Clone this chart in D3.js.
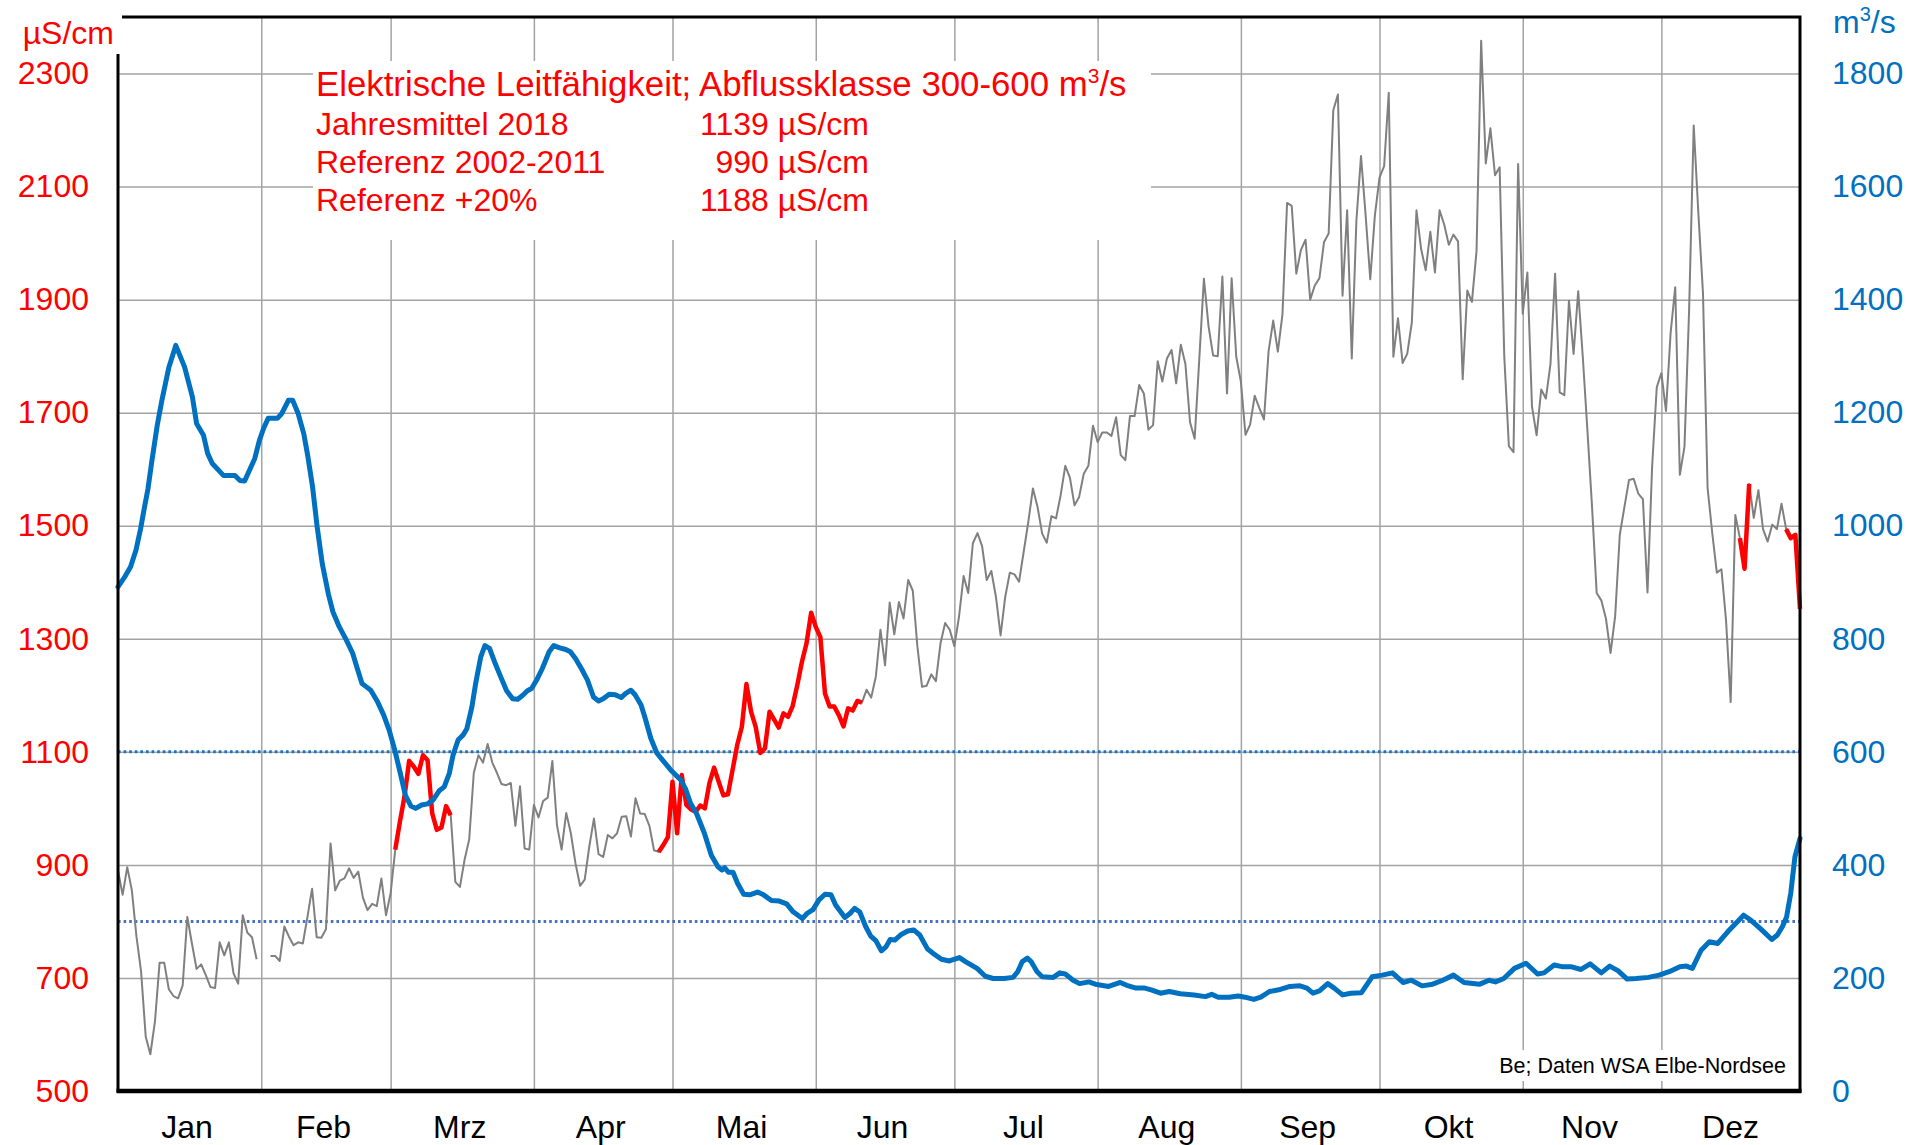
<!DOCTYPE html>
<html>
<head>
<meta charset="utf-8">
<title>Elektrische Leitfähigkeit 2018</title>
<script src="https://cdn.jsdelivr.net/npm/d3@7"></script>
<style>
  body { margin: 0; background: #fff; }
  svg text { font-family: "Liberation Sans", Arial, sans-serif; }
  .grid line { stroke: #a3a3a3; stroke-width: 1.5; }
  .grid path { display: none; }
</style>
</head>
<body>
<script>
// Tageswerte 2018 (Index 0 = 1. Januar), µS/cm; null = keine Daten
var leitfaehigkeit = [
  890,847,896,855,773,711,596,565,623,727,
  727,680,668,664,687,808,761,716,724,705,
  684,682,763,740,763,708,690,811,780,772,
  733,null,null,739,739,730,791,773,758,763,
  761,808,858,772,771,786,938,855,872,876,
  894,877,888,842,820,831,827,876,811,850,
  927,976,1021,1084,1074,1061,1094,1085,991,962,
  966,1004,988,870,861,909,945,1063,1094,1081,
  1114,1081,1063,1043,1041,1045,969,1039,929,927,
  1006,984,1013,1019,1084,970,927,992,956,903,
  863,874,933,982,919,914,953,947,956,985,
  986,950,1018,991,990,969,926,923,935,949,
  1047,956,1059,1006,998,994,1005,1000,1045,1072,
  1047,1023,1025,1068,1112,1144,1220,1171,1144,1098,
  1106,1171,1157,1143,1168,1162,1181,1218,1259,1292,
  1346,1321,1303,1203,1180,1180,1165,1145,1177,1173,
  1190,1187,1210,1196,1233,1316,1253,1364,1308,1365,
  1336,1404,1385,1286,1215,1217,1237,1225,1292,1328,
  1316,1287,1339,1411,1381,1469,1487,1464,1404,1420,
  1374,1306,1374,1417,1414,1401,1454,1507,1566,1533,
  1486,1470,1517,1513,1554,1606,1585,1536,1551,1592,
  1606,1677,1648,1665,1665,1659,1692,1625,1616,1694,
  1694,1749,1734,1670,1678,1791,1755,1796,1811,1752,
  1820,1786,1683,1654,1795,1937,1853,1801,1800,1941,
  1734,1938,1799,1755,1661,1679,1730,1708,1688,1809,
  1863,1808,1874,2071,2066,1946,1988,2006,1900,1925,
  1938,2002,2017,2235,2263,1907,2058,1796,2040,2154,
  2049,1936,2049,2116,2136,2266,1799,1867,1788,1804,
  1860,2058,1990,1952,2020,1948,2058,2033,1997,2015,
  2003,1759,1916,1896,1986,2358,2141,2203,2120,2134,
  1800,1641,1630,2140,1875,1948,1711,1660,1741,1725,
  1786,1946,1736,1731,1898,1804,1915,1798,1668,1533,
  1381,1368,1336,1275,1340,1484,1533,1581,1583,1557,
  1547,1382,1605,1745,1770,1703,1841,1922,1590,1640,
  1881,2208,2054,1912,1567,1488,1417,1423,1332,1188,
  1519,1478,1424,1574,1514,1563,1494,1472,1502,1494,
  1539,1494,1478,1484,1353
];

// Tage (von-bis), an denen der Abfluss in der Klasse 300-600 m3/s lag
var klasseTage = [[60, 72], [117, 161], [351, 353], [361, 364]];

// Abfluss m3/s: [Tag, Wert]
var abfluss = [
  [0,892],[1.5,910],[2.7,927],[3.9,957],[4.9,995],[5.6,1027],[6.5,1066],[7.3,1113],[8.5,1178],[9.5,1222],
  [11,1280],[12.5,1319],[14.4,1281],[16.1,1228],[17,1181],[18.5,1160],[19.4,1128],[20.4,1110],[21.9,1097],
  [22.8,1089],[25.3,1089],[26.4,1080],[27.4,1079],[28.6,1101],[29.6,1119],[30.6,1151],[31.5,1172],
  [32.5,1190],[34.5,1190],[35.4,1198],[36.9,1222],[37.8,1222],[39,1198],[40.2,1163],[41.1,1122],
  [42.1,1069],[43.1,998],[44.2,933],[45.5,880],[46.5,848],[47.9,821],[49.4,798],[50.8,774],[51.8,747],
  [52.8,721],[53.9,714],[54.7,709],[56.2,688],[57.5,665],[58.7,638],[59.9,603],[61.1,562],[62.2,523],
  [63.4,504],[64.4,500],[65.7,506],[67,508],[68.2,515],[69.5,531],[70.6,538],[71.7,562],[72.5,594],
  [73.6,621],[74.7,630],[75.5,641],[76.6,680],[77.4,721],[78.5,768],[79.4,788],[80.4,783],[81.5,759],
  [82.8,733],[84.1,708],[85.4,694],[86.5,693],[87.6,700],[88.6,708],[89.5,712],[90.6,727],[91.8,747],
  [93.3,777],[94.3,788],[95.6,784],[96.9,781],[97.9,777],[99,765],[100.3,747],[101.6,727],[102.9,697],
  [104,690],[105,694],[106.3,702],[107.6,701],[108.9,696],[109.8,703],[111,709],[111.9,701],[113.2,683],
  [114.1,659],[115.3,624],[116.6,598],[117.9,585],[119.6,568],[121.8,550],[122.8,535],[123.9,509],
  [125.2,491],[126.9,456],[128.4,417],[129.8,397],[130.7,391],[131.3,395],[132.1,387],[133.1,387],
  [134.1,367],[135.4,348],[136.7,347],[138.4,352],[139.7,347],[141.4,337],[143.1,336],[144.7,331],
  [146.1,317],[148.1,305],[149.1,314],[150.4,321],[151.7,338],[153,348],[154.3,347],[155.3,329],
  [157.3,307],[158.4,314],[159.4,323],[160.5,317],[161.8,291],[162.9,274],[164,266],[165.2,248],
  [166.2,255],[167.1,268],[168.1,267],[169.5,277],[170.9,283],[172.2,285],[173.5,276],[175.2,251],
  [176.5,243],[178.2,233],[179.9,230],[182.1,236],[183.4,229],[185.9,217],[187.7,203],[189.4,199],
  [191.8,199],[193.7,201],[194.7,211],[195.7,229],[196.8,235],[197.6,229],[198.9,211],[200,202],
  [202.4,201],[203.8,209],[205,207],[206.7,196],[208.1,190],[210.1,193],[211.5,189],[214.4,185],
  [216.9,192],[218.3,187],[220.3,182],[222.2,182],[223.6,179],[225.6,173],[227.5,176],[229.9,172],
  [232.9,170],[235.3,167],[236.7,171],[238.1,166],[240.5,166],[242.4,168],[243.9,166],[245.8,162],
  [247.3,166],[249.2,176],[251.2,179],[253.6,185],[255.8,186],[257.3,182],[258.6,173],[260,177],
  [261.8,190],[263.2,182],[265,170],[266.8,173],[269.1,174],[271.4,202],[273.6,205],[275.8,209],
  [278.1,192],[279.9,196],[282.2,186],[284.5,189],[286.7,196],[289,205],[291.3,192],[294.7,189],
  [296.7,196],[298.1,193],[299.9,199],[302.2,217],[304.7,226],[307.2,207],[308.6,209],[310.8,223],
  [312.5,220],[314.4,220],[316.6,215],[318.6,225],[321,209],[322.8,221],[324.6,213],[326.6,198],
  [328.5,199],[331.2,201],[333.5,205],[335.7,211],[338,220],[339.4,221],[340.7,217],[342.6,249],
  [344.4,264],[346.2,261],[348.4,282],[350.4,299],[351.8,311],[353.4,302],[355.6,286],[357.9,268],
  [359.1,276],[360.2,291],[361.1,308],[362,350],[362.9,414],[364,447]
];

var monate = ["Jan","Feb","Mrz","Apr","Mai","Jun","Jul","Aug","Sep","Okt","Nov","Dez"];
var monatsBeginn = [0,31,59,90,120,151,181,212,243,273,304,334,365];
var leitTicks = [500,700,900,1100,1300,1500,1700,1900,2100,2300];
var abflussTicks = [0,200,400,600,800,1000,1200,1400,1600,1800];
var klasseGrenzen = [300, 600];

var titel = "Elektrische Leitfähigkeit; Abflussklasse 300-600 m";
var kennzeilen = [
  ["Jahresmittel 2018", "1139 µS/cm"],
  ["Referenz 2002-2011", "990 µS/cm"],
  ["Referenz +20%", "1188 µS/cm"]
];

var width = 1907, height = 1145;
var pL = 118, pR = 1800, pT = 17, pB = 1091;
var rot = "#ff0000", blau = "#0070c0";
var fs = "32px";

var svg = d3.select("body").append("svg")
  .attr("width", width)
  .attr("height", height);

var x = d3.scaleLinear().domain([0, 364]).range([pL, pR]);
var yL = d3.scaleLinear().domain([500, 2400]).range([pB, pT]);
var yR = d3.scaleLinear().domain([0, 1900]).range([pB, pT]);

// Gitternetz
svg.append("g").attr("class", "grid")
  .attr("transform", "translate(" + pL + ",0)")
  .call(d3.axisLeft(yL).tickValues(leitTicks).tickSize(-(pR - pL)).tickFormat(""));
svg.append("g").attr("class", "grid")
  .attr("transform", "translate(0," + pB + ")")
  .call(d3.axisBottom(x).tickValues(monatsBeginn.slice(1, 12)).tickSize(-(pB - pT)).tickFormat(""));

// weiße Textfelder über dem Gitter
svg.append("rect").attr("x", 313).attr("y", 61).attr("width", 838).attr("height", 179).attr("fill", "#fff");
svg.append("rect").attr("x", 1497).attr("y", 1050).attr("width", 293).attr("height", 31).attr("fill", "#fff");

// Klassengrenzen
svg.selectAll(".grenze")
  .data(klasseGrenzen)
  .enter().append("line")
  .attr("class", "grenze")
  .attr("x1", pL).attr("x2", pR)
  .attr("y1", d => yR(d)).attr("y2", d => yR(d))
  .attr("stroke", (d, i) => i == 0 ? "#4472c4" : "#1a72c2")
  .attr("stroke-width", 3)
  .attr("stroke-dasharray", "2.6 3");

// Leitfähigkeit, grau
var lineL = d3.line()
  .defined(d => d != null)
  .x((d, i) => x(i))
  .y(d => yL(d));

svg.append("path")
  .datum(leitfaehigkeit)
  .attr("d", lineL)
  .attr("fill", "none")
  .attr("stroke", "#808080")
  .attr("stroke-width", 2)
  .attr("stroke-linejoin", "round");

// Leitfähigkeit in der Abflussklasse, rot
var lineK = d3.line()
  .x(d => x(d[0]))
  .y(d => yL(d[1]));

svg.selectAll(".klasse")
  .data(klasseTage)
  .enter().append("path")
  .attr("class", "klasse")
  .attr("d", r => lineK(d3.range(r[0], r[1] + 1).map(i => [i, leitfaehigkeit[i]])))
  .attr("fill", "none")
  .attr("stroke", rot)
  .attr("stroke-width", 4.5)
  .attr("stroke-linejoin", "round");

// Abfluss, blau
var lineQ = d3.line()
  .x(d => x(d[0]))
  .y(d => yR(d[1]));

svg.append("path")
  .datum(abfluss)
  .attr("d", lineQ)
  .attr("fill", "none")
  .attr("stroke", blau)
  .attr("stroke-width", 5)
  .attr("stroke-linejoin", "round")
  .attr("stroke-linecap", "round");

// Rahmen
svg.append("rect")
  .attr("x", pL).attr("y", pT)
  .attr("width", pR - pL).attr("height", pB - pT)
  .attr("fill", "none").attr("stroke", "#000").attr("stroke-width", 3);
svg.append("line")
  .attr("x1", pL - 1.5).attr("x2", pR + 1.5)
  .attr("y1", pB).attr("y2", pB)
  .attr("stroke", "#000").attr("stroke-width", 4.5);
svg.append("rect").attr("x", 0).attr("y", 0).attr("width", 122).attr("height", 54).attr("fill", "#fff");

// Achsen
var axL = svg.append("g")
  .attr("transform", "translate(" + pL + ",0)")
  .call(d3.axisLeft(yL).tickValues(leitTicks).tickSize(0).tickPadding(29).tickFormat(d3.format("d")));
axL.select(".domain").remove();
axL.selectAll("text").attr("fill", rot).style("font-size", fs);

var axR = svg.append("g")
  .attr("transform", "translate(" + pR + ",0)")
  .call(d3.axisRight(yR).tickValues(abflussTicks).tickSize(0).tickPadding(32).tickFormat(d3.format("d")));
axR.select(".domain").remove();
axR.selectAll("text").attr("fill", blau).style("font-size", fs);

var mitten = monate.map((m, i) => (monatsBeginn[i] + monatsBeginn[i + 1]) / 2);
var axB = svg.append("g")
  .attr("transform", "translate(-3," + pB + ")")
  .call(d3.axisBottom(x).tickValues(mitten).tickSize(0).tickFormat((d, i) => monate[i]));
axB.select(".domain").remove();
axB.selectAll("text").attr("fill", "#000").attr("y", 47).attr("dy", 0).style("font-size", fs);

// Einheiten
svg.append("text").attr("x", 114).attr("y", 44).attr("text-anchor", "end")
  .attr("fill", rot).style("font-size", fs).text("µS/cm");

var eR = svg.append("text").attr("x", 1833).attr("y", 33)
  .attr("fill", blau).style("font-size", fs);
eR.append("tspan").text("m");
eR.append("tspan").attr("dy", -12).style("font-size", "20px").text("3");
eR.append("tspan").attr("dy", 12).text("/s");

// Titelblock
var t = svg.append("text").attr("x", 316).attr("y", 96)
  .attr("fill", rot).style("font-size", "34.8px");
t.append("tspan").text(titel);
t.append("tspan").attr("dy", -13).style("font-size", "21px").text("3");
t.append("tspan").attr("dy", 13).text("/s");

kennzeilen.forEach(function(z, i) {
  var yy = 134.5 + i * 38.3;
  svg.append("text").attr("x", 316).attr("y", yy)
    .attr("fill", rot).style("font-size", fs).text(z[0]);
  svg.append("text").attr("x", 869).attr("y", yy).attr("text-anchor", "end")
    .attr("fill", rot).style("font-size", fs).text(z[1]);
});

svg.append("text").attr("x", 1786).attr("y", 1073).attr("text-anchor", "end")
  .attr("fill", "#000").style("font-size", "21.5px").text("Be; Daten WSA Elbe-Nordsee");
</script>
</body>
</html>
